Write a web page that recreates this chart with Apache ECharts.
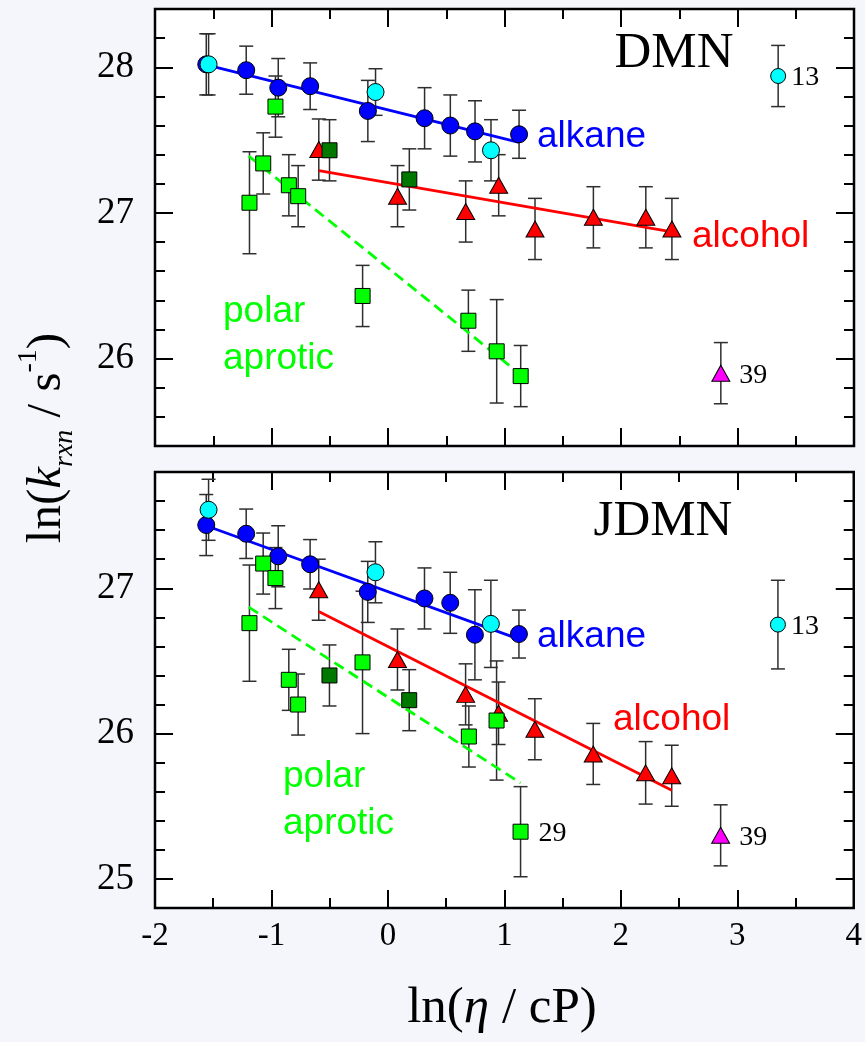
<!DOCTYPE html>
<html>
<head>
<meta charset="utf-8">
<script src="https://cdn.jsdelivr.net/npm/echarts@6/dist/echarts.min.js"></script>
<style>
  html, body { margin: 0; padding: 0; background: #f5f6fc; }
  #chart { width: 865px; height: 1042px; }
</style>
</head>
<body>
<div id="chart"></div>
<script>
// ---- measured rate constants: [ln(eta/cP), ln(k_rxn/s^-1), error] ----

// DMN panel
const alkaneBlueDMN = [[-1.56, 28.02, 0.21], [-1.217, 27.98, 0.165], [-0.942, 27.86, 0.2], [-0.668, 27.87, 0.16],
  [-0.173, 27.70, 0.21], [0.314, 27.65, 0.21], [0.535, 27.60, 0.21], [0.747, 27.56, 0.21], [1.125, 27.54, 0.165]];
const alkaneCyanDMN = [[-1.54, 28.02, 0.21], [-0.107, 27.83, 0.16], [0.884, 27.43, 0.21]];
const alcoholDMN = [[-0.594, 27.435, 0.21], [0.082, 27.115, 0.21], [0.667, 27.01, 0.21], [0.950, 27.19, 0.21],
  [1.262, 26.89, 0.21], [1.763, 26.97, 0.21], [2.213, 26.97, 0.21], [2.437, 26.89, 0.21]];
const polarDarkDMN = [[-0.502, 27.43, 0.21], [0.183, 27.23, 0.21]];
const polarDMN = [[-1.189, 27.07, 0.35], [-1.071, 27.34, 0.21], [-0.966, 27.73, 0.21], [-0.851, 27.19, 0.21],
  [-0.771, 27.115, 0.21], [-0.218, 26.43, 0.21], [0.690, 26.26, 0.21], [0.933, 26.05, 0.355], [1.139, 25.88, 0.21]];
const solvent13DMN = [[3.349, 27.94, 0.21]];
const solvent39DMN = [[2.857, 25.90, 0.21]];

const alkaneFitDMN = [[-1.56, 28.016], [1.125, 27.484]];
const alcoholFitDMN = [[-0.594, 27.29], [2.437, 26.87]];
const polarFitDMN = [[-1.195, 27.39], [1.139, 25.89]];

// JDMN panel
const alkaneBlueJDMN = [[-1.56, 27.435, 0.21], [-1.217, 27.375, 0.17], [-0.942, 27.22, 0.21], [-0.668, 27.165, 0.17],
  [-0.173, 26.975, 0.21], [0.314, 26.93, 0.21], [0.535, 26.90, 0.21], [0.747, 26.68, 0.31], [1.125, 26.685, 0.165]];
const alkaneCyanJDMN = [[-1.54, 27.54, 0.21], [-0.107, 27.11, 0.21], [0.884, 26.755, 0.30]];
const alcoholJDMN = [[-0.594, 26.99, 0.21], [0.082, 26.51, 0.21], [0.667, 26.27, 0.21], [0.950, 26.14, 0.215],
  [1.262, 26.03, 0.21], [1.763, 25.86, 0.21], [2.213, 25.73, 0.215], [2.437, 25.71, 0.21]];
const polarDarkJDMN = [[-0.502, 26.40, 0.21], [0.183, 26.23, 0.21]];
const polarJDMN = [[-1.189, 26.76, 0.40], [-1.071, 27.17, 0.21], [-0.966, 27.07, 0.21], [-0.851, 26.37, 0.21],
  [-0.771, 26.20, 0.21], [-0.218, 26.49, 0.49], [0.695, 25.98, 0.21], [0.933, 26.09, 0.41]];
const solvent29JDMN = [[1.139, 25.325, 0.31]];
const solvent13JDMN = [[3.349, 26.75, 0.305]];
const solvent39JDMN = [[2.857, 25.30, 0.21]];

const alkaneFitJDMN = [[-1.56, 27.43], [1.125, 26.65]];
const alcoholFitJDMN = [[-0.594, 26.84], [2.437, 25.61]];
const polarFitJDMN = [[-1.195, 26.87], [1.139, 25.66]];

// axis ranges and tick labels
const xRange = [-2, 4];
const yRangeDMN = [25.4, 28.4];
const yRangeJDMN = [24.8, 27.8];
const yTicksDMN = [26, 27, 28];
const yTicksJDMN = [25, 26, 27];

// ---- styling ----
const SERIF = "'Liberation Serif', 'Times New Roman', serif";
const SANS = "'Liberation Sans', Arial, sans-serif";
const COL = {
  blue: '#0000ff', cyan: '#00ffff', red: '#ff0000', green: '#00ff00',
  dark: '#007800', magenta: '#ff00ff', bar: '#2e2e2e'
};
const tickLine = { color: '#000', width: 2 };
const noLine = { show: false, onZero: false };

function minorValues(range, step, majors) {
  const out = [];
  const n = Math.round((range[1] - range[0]) / step);
  for (let i = 1; i < n; i++) {
    const v = Math.round((range[0] + i * step) * 10) / 10;
    if (!majors.includes(v)) out.push(v);
  }
  return out;
}

function xAxes(p, showLabels) {
  const base = {
    type: 'value', gridIndex: p, min: xRange[0], max: xRange[1], interval: 1,
    axisLine: noLine,
    axisTick: { show: true, inside: true, length: 18, lineStyle: tickLine },
    minorTick: { show: true, splitNumber: 2, length: 10, lineStyle: tickLine },
    splitLine: { show: false }, minorSplitLine: { show: false }
  };
  return [
    Object.assign({}, base, {
      position: 'bottom',
      axisLabel: { show: showLabels, fontFamily: SERIF, fontSize: 33, color: '#000', margin: 12 }
    }),
    Object.assign({}, base, { position: 'top', axisLabel: { show: false } })
  ];
}

function yAxes(p, range, majors) {
  const minors = minorValues(range, 0.2, majors);
  const base = {
    type: 'value', gridIndex: p, min: range[0], max: range[1],
    axisLine: noLine, splitLine: { show: false }
  };
  const out = [];
  ['left', 'right'].forEach(pos => {
    out.push(Object.assign({}, base, {
      position: pos,
      axisTick: { show: true, inside: true, length: 18, customValues: majors, lineStyle: tickLine },
      axisLabel: pos === 'left'
        ? { show: true, customValues: majors, fontFamily: SERIF, fontSize: 37, color: '#000', margin: 21 }
        : { show: false }
    }));
    out.push(Object.assign({}, base, {
      position: pos,
      axisTick: { show: true, inside: true, length: 10, customValues: minors, lineStyle: tickLine },
      axisLabel: { show: false }
    }));
  });
  return out;
}

function errorBars(data, p) {
  return {
    type: 'custom', xAxisIndex: p * 2, yAxisIndex: p * 4, z: 2, silent: true,
    data: data.map(d => [d[0], d[1] - d[2], d[1] + d[2]]),
    encode: { x: 0, y: [1, 2] },
    renderItem: (params, api) => {
      const lo = api.coord([api.value(0), api.value(1)]);
      const hi = api.coord([api.value(0), api.value(2)]);
      const w = 7;
      const st = { stroke: COL.bar, lineWidth: 1.5 };
      return {
        type: 'group', children: [
          { type: 'line', shape: { x1: lo[0], y1: lo[1], x2: hi[0], y2: hi[1] }, style: st },
          { type: 'line', shape: { x1: lo[0] - w, y1: lo[1], x2: lo[0] + w, y2: lo[1] }, style: st },
          { type: 'line', shape: { x1: hi[0] - w, y1: hi[1], x2: hi[0] + w, y2: hi[1] }, style: st }
        ]
      };
    }
  };
}

function markers(data, p, symbol, size, color, tag, dist) {
  const s = {
    type: 'scatter', xAxisIndex: p * 2, yAxisIndex: p * 4, z: 4, silent: true,
    symbol: symbol, symbolSize: size,
    data: data.map(d => [d[0], d[1]]),
    itemStyle: { color: color, borderColor: '#000', borderWidth: 1, opacity: 1 }
  };
  if (tag) {
    s.label = {
      show: true, position: 'right', distance: dist, offset: [0, 2],
      formatter: () => tag, fontFamily: SERIF, fontSize: 28, color: '#000'
    };
  }
  return s;
}

function fitLine(pts, p, color, dashed) {
  return {
    type: 'line', xAxisIndex: p * 2, yAxisIndex: p * 4, z: 3, silent: true,
    data: pts, showSymbol: false, symbol: 'none',
    lineStyle: { color: color, width: 2.8, type: dashed ? [11, 6] : 'solid' }
  };
}

function panelSeries(p, set) {
  const all = [set.blue, set.cyan, set.alcohol, set.dark, set.polar, set.s13, set.s39].concat(set.s29 ? [set.s29] : []);
  const series = all.map(d => errorBars(d, p));
  series.push(fitLine(set.alkaneFit, p, COL.blue, false));
  series.push(fitLine(set.alcoholFit, p, COL.red, false));
  series.push(fitLine(set.polarFit, p, COL.green, true));
  series.push(markers(set.blue, p, 'circle', 17, COL.blue));
  series.push(markers(set.cyan, p, 'circle', 17, COL.cyan));
  series.push(markers(set.alcohol, p, 'triangle', [18, 16], COL.red));
  series.push(markers(set.polar, p, 'rect', 15, COL.green));
  series.push(markers(set.dark, p, 'rect', 15, COL.dark));
  series.push(markers(set.s13, p, 'circle', 15, COL.cyan, '13', 5));
  series.push(markers(set.s39, p, 'triangle', [18, 16], COL.magenta, '39', 9));
  if (set.s29) series.push(markers(set.s29, p, 'rect', 15, COL.green, '29', 10));
  return series;
}

function text(str, x, y, color, size, family, align) {
  return {
    type: 'text', x: x, y: y, silent: true, z: 10,
    style: { text: str, fill: color, fontSize: size, fontFamily: family, align: align || 'left', verticalAlign: 'middle' }
  };
}

const series = []
  .concat(panelSeries(0, {
    blue: alkaneBlueDMN, cyan: alkaneCyanDMN, alcohol: alcoholDMN, dark: polarDarkDMN, polar: polarDMN,
    s13: solvent13DMN, s39: solvent39DMN,
    alkaneFit: alkaneFitDMN, alcoholFit: alcoholFitDMN, polarFit: polarFitDMN
  }))
  .concat(panelSeries(1, {
    blue: alkaneBlueJDMN, cyan: alkaneCyanJDMN, alcohol: alcoholJDMN, dark: polarDarkJDMN, polar: polarJDMN,
    s13: solvent13JDMN, s39: solvent39JDMN, s29: solvent29JDMN,
    alkaneFit: alkaneFitJDMN, alcoholFit: alcoholFitJDMN, polarFit: polarFitJDMN
  }));

const gridStyle = { show: true, backgroundColor: '#ffffff', borderColor: '#000', borderWidth: 2.5 };

const option = {
  animation: false,
  backgroundColor: '#f5f6fc',
  grid: [
    Object.assign({ left: 155, top: 9, width: 699, height: 437 }, gridStyle),
    Object.assign({ left: 155, top: 472, width: 699, height: 436 }, gridStyle)
  ],
  xAxis: xAxes(0, false).concat(xAxes(1, true)),
  yAxis: yAxes(0, yRangeDMN, yTicksDMN).concat(yAxes(1, yRangeJDMN, yTicksJDMN)),
  series: series,
  graphic: [
    text('DMN', 674, 54, '#000', 51, SERIF, 'center'),
    text('alkane', 537, 137, COL.blue, 37, SANS),
    text('alcohol', 692, 236.5, COL.red, 37, SANS),
    text('polar', 223, 311.5, COL.green, 37, SANS),
    text('aprotic', 223, 358.5, COL.green, 37, SANS),
    text('JDMN', 663, 521.5, '#000', 51, SERIF, 'center'),
    text('alkane', 537, 637, COL.blue, 37, SANS),
    text('alcohol', 613, 720, COL.red, 37, SANS),
    text('polar', 283, 776.5, COL.green, 37, SANS),
    text('aprotic', 283, 823.5, COL.green, 37, SANS),
    {
      type: 'text', x: 502, y: 1009, silent: true,
      style: {
        text: '{n|ln(}{i|\u03b7}{n| / cP)}', align: 'center', verticalAlign: 'middle',
        rich: {
          n: { fontFamily: SERIF, fontSize: 51, fill: '#000' },
          i: { fontFamily: SERIF, fontSize: 51, fontStyle: 'italic', fill: '#000' }
        }
      }
    },
    {
      type: 'text', x: 47, y: 438, rotation: Math.PI / 2, silent: true,
      style: {
        text: '{n|ln(}{i|k}{sub|rxn}{n| / s}{sup|-1}{n|)}', align: 'center', verticalAlign: 'middle',
        rich: {
          n: { fontFamily: SERIF, fontSize: 49, lineHeight: 64, fill: '#000' },
          i: { fontFamily: SERIF, fontSize: 49, lineHeight: 64, fontStyle: 'italic', fill: '#000' },
          sub: { fontFamily: SERIF, fontSize: 28, lineHeight: 28, fontStyle: 'italic', verticalAlign: 'bottom', fill: '#000' },
          sup: { fontFamily: SERIF, fontSize: 28, lineHeight: 28, verticalAlign: 'top', fill: '#000' }
        }
      }
    }
  ]
};

const chart = echarts.init(document.getElementById('chart'), null, { renderer: 'canvas' });
chart.setOption(option);
</script>
</body>
</html>
